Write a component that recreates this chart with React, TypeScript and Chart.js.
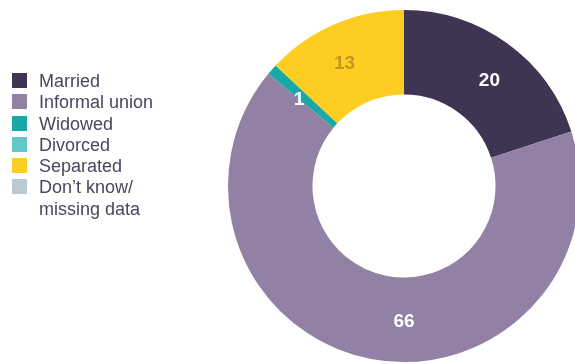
import React, { useEffect, useRef } from "react";
import { Chart, registerables } from "chart.js";

Chart.register(...registerables);

const categories = ["Married", "Informal union", "Widowed", "Divorced", "Separated", "Don\u2019t know/\nmissing data"];
const values = [20, 66, 1, 0, 13, 0];
const colors = ["#3e3553", "#9281a4", "#1aa8a5", "#64c7c7", "#fecd22", "#bcc8d2"];
const labelColors = ["#ffffff", "#ffffff", "#ffffff", "#ffffff", "#c6951c", "#ffffff"];
const labelAngleShiftDeg = [3, -10.8, -2, 0, -2.6, 0];

const labelPlugin = {
  id: "sliceLabels",
  afterDatasetsDraw(chart: any) {
    const ctx = chart.ctx;
    const meta = chart.getDatasetMeta(0);
    ctx.save();
    ctx.font = "bold 19px 'Liberation Sans', Arial, sans-serif";
    ctx.textAlign = "center";
    ctx.textBaseline = "middle";
    meta.data.forEach((arc: any, i: number) => {
      const v = values[i];
      if (!v) return;
      const p = arc.getProps(["startAngle", "endAngle", "innerRadius", "outerRadius", "x", "y"], true);
      const a = (p.startAngle + p.endAngle) / 2 + (labelAngleShiftDeg[i] * Math.PI) / 180;
      const r = (p.innerRadius + p.outerRadius) / 2 + 2;
      ctx.fillStyle = labelColors[i];
      ctx.fillText(String(v), p.x + Math.cos(a) * r, p.y + Math.sin(a) * r);
    });
    ctx.restore();
  },
};

export default function App() {
  const ref = useRef<HTMLCanvasElement | null>(null);
  useEffect(() => {
    if (!ref.current) return;
    const chart = new Chart(ref.current, {
      type: "doughnut",
      data: {
        labels: categories,
        datasets: [
          {
            data: values,
            backgroundColor: colors,
            borderWidth: 0,
          },
        ],
      },
      options: {
        responsive: false,
        animation: false,
        cutout: "52%",
        layout: { padding: { left: 228, right: 20, top: 10, bottom: 2 } },
        plugins: { legend: { display: false }, tooltip: { enabled: false } },
      },
      plugins: [labelPlugin],
    });
    return () => chart.destroy();
  }, []);

  return (
    <div
      style={{
        position: "fixed",
        left: 0,
        top: 0,
        width: 575,
        height: 364,
        overflow: "hidden",
        background: "#ffffff",
      }}
    >
      <canvas ref={ref} width={600} height={364} style={{ width: 600, height: 364, display: "block" }} />
      <div
        style={{
          position: "absolute",
          left: 12,
          top: 71,
          fontFamily: "'Liberation Sans', Arial, sans-serif",
          fontSize: 18,
          color: "#4a4660",
        }}
      >
        {categories.map((c, i) => (
          <div key={c} style={{ display: "flex", alignItems: "flex-start", lineHeight: "21.3px" }}>
            <div style={{ width: 15, height: 15, background: colors[i], marginTop: 2, marginRight: 12, flex: "none" }} />
            <div style={{ whiteSpace: "pre-line" }}>{c}</div>
          </div>
        ))}
      </div>
    </div>
  );
}
